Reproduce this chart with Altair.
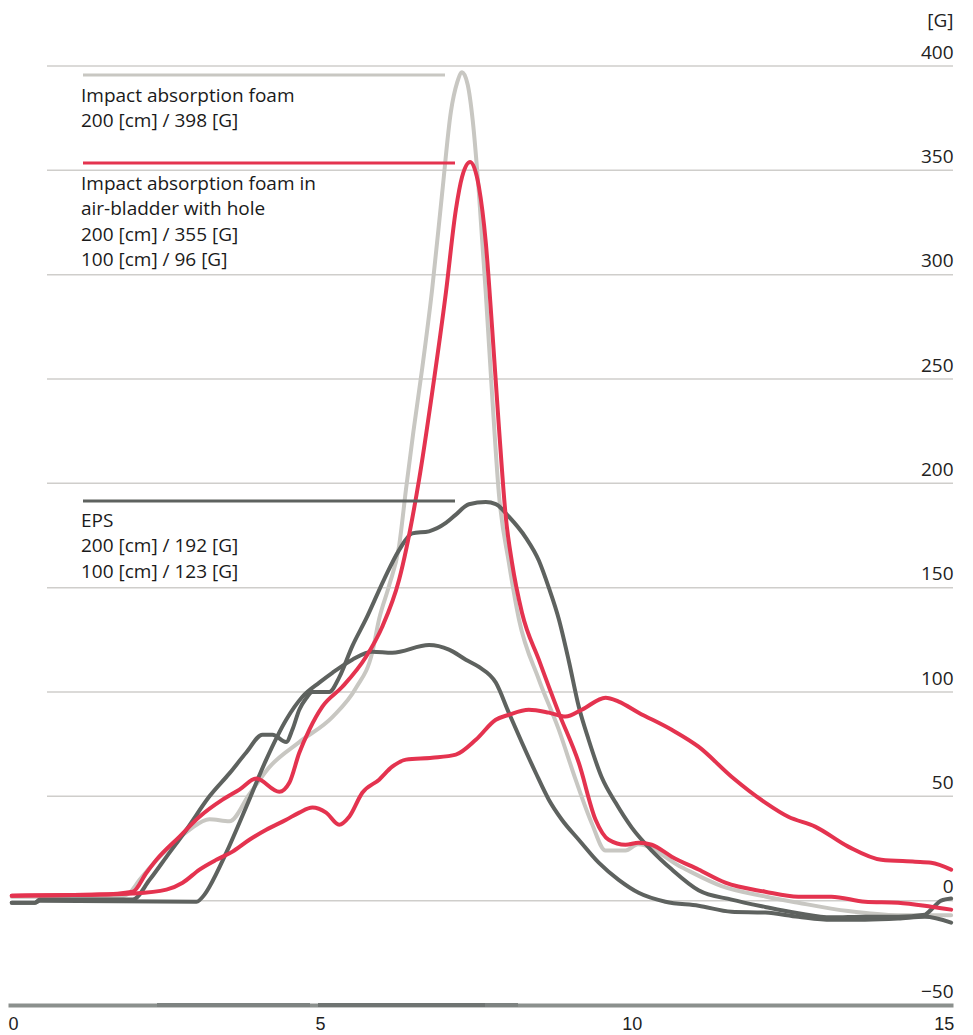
import altair as alt
import pandas as pd

# ---------------- data (time [ms] vs acceleration [G]) ----------------
foam200_t = [0.06, 1.79, 1.95, 2.11, 2.43, 2.91, 3.23, 3.55, 3.87, 4.19, 4.67, 5.2, 5.58, 5.84,
             5.95, 6.11, 6.27, 6.38, 6.5, 6.64, 6.8, 6.96, 7.1, 7.2, 7.28, 7.37, 7.45, 7.55, 7.66,
             7.76, 7.87, 8.03, 8.19, 8.51, 8.83, 9.1, 9.36, 9.58, 9.9, 10.1, 10.8, 11.44,
             12.14, 12.67, 13.47, 14.27, 15.12]
foam200_g = [1.9, 1.9, 3.8, 10, 21, 34, 39, 38, 51, 64, 76, 88, 102, 119,
             135, 151, 170, 197, 225, 255, 293, 339, 378, 392, 397, 391, 374, 339, 291,
             243, 195, 162, 135, 106, 82, 58, 37, 24, 24, 27, 16, 7,
             2, -1, -5, -7, -7]

bladder200_t = [0.06, 1.47, 2.0, 2.22, 2.38, 2.75, 3.07, 3.44, 3.71, 3.98, 4.35, 4.51, 4.67, 4.83,
                5.04, 5.36, 5.74, 6.0, 6.27, 6.59, 6.8, 7.02, 7.18, 7.28, 7.41, 7.55, 7.66, 7.76,
                7.87, 7.98, 8.08, 8.24, 8.51, 8.83, 9.15, 9.42, 9.63, 9.9, 10.11, 10.32, 10.64,
                11.07, 11.5, 12.14, 12.67, 13.2, 13.74, 14.27, 14.8, 15.12]
bladder200_g = [2.4, 2.9, 4.3, 13.4, 19.6, 30.7, 40.2, 48.4, 53.2, 58.5, 52.2, 56.5, 70.9, 81.9,
                93, 102.5, 116.9, 131.3, 153.8, 201.7, 243.4, 291.3, 331.1, 346.9, 354, 342, 315.3, 275,
                227.1, 184, 162, 138, 115.5, 90, 66.1, 38.8, 29.2, 26.8, 27.8, 26.8, 21.1,
                14.9, 8.6, 4.3, 1.9, 1.9, -0.5, -1, -2.9, -4.3]

bladder100_t = [0.06, 1.47, 2.0, 2.54, 2.8, 3.07, 3.34, 3.6, 3.87, 4.14, 4.46, 4.67, 4.88, 5.1,
                5.31, 5.47, 5.68, 5.95, 6.16, 6.38, 6.8, 7.18, 7.5, 7.82, 8.03, 8.35, 8.67, 8.94,
                9.2, 9.58, 9.79, 10.11, 10.64, 11.07, 11.6, 12.14, 12.51, 12.94, 13.47, 14.0,
                14.54, 14.8, 15.12]
bladder100_g = [2.4, 2.9, 3.4, 5.3, 8.6, 14.9, 19.6, 23.5, 29.2, 34, 38.8, 42.2, 44.6, 42.2,
                36.4, 40.2, 51.7, 58, 64.2, 67.6, 68.5, 70, 77.1, 86.7, 89.1, 91.5, 90.1, 88.2,
                91.5, 97.3, 95.4, 90.1, 81.9, 73.8, 59.4, 47, 40.2, 35.5, 25.9, 19.6,
                18.7, 18.2, 14.9]

eps200_t = [0.06, 0.43, 0.51, 2.0, 2.27, 2.54, 2.86, 3.23, 3.55, 3.82, 4.08, 4.24, 4.46, 4.56,
            4.67, 4.78, 4.88, 5.15, 5.31, 5.52, 5.74, 6.03, 6.27, 6.48, 6.75, 7.02, 7.18, 7.39,
            7.66, 7.82, 8.03, 8.3, 8.51, 8.67, 8.83, 8.99, 9.15, 9.31, 9.52, 9.74, 10.0, 10.32,
            10.64, 11.07, 11.6, 12.14, 12.67, 13.2, 13.74, 14.27, 14.7, 14.8, 14.96, 15.12]
eps200_g = [-1, -1, 0.5, 0.5, 10, 21, 34, 50, 61, 71, 79.5, 79.5, 76, 82,
            91.5, 97, 100, 100, 107, 122, 135, 154, 168, 176, 177, 181, 185, 190,
            191, 190, 184, 174, 163, 150, 135, 115, 93, 77, 59, 47, 35, 24,
            15, 5, 0.5, -3, -6, -8, -7.7, -7.7, -6.7, -4.3, 0, 1]

eps100_t = [0.06, 0.43, 0.51, 3.02, 3.15, 3.23, 3.5, 3.82, 4.14, 4.46, 4.72, 4.99, 5.2, 5.52,
            5.84, 6.16, 6.75, 7.07, 7.34, 7.55, 7.82, 8.03, 8.24, 8.46, 8.67, 8.88, 9.15, 9.47,
            9.79, 10.11, 10.54, 11.07, 11.6, 12.14, 12.67, 13.2, 13.74, 14.27, 14.7, 15.12]
eps100_g = [-1, -1, 0, -0.5, 2.9, 6.7, 23, 45, 67.6, 86.7, 97.7, 104.5, 109.2, 115.5,
            119.3, 118.8, 122.5, 120.3, 115.5, 112, 104.5, 90, 75.7, 61.3, 48.4, 38.8, 29.2, 18.2,
            10, 3.8, -0.5, -2.4, -5.3, -5.7, -7.7, -9.1, -9.1, -8.6, -7.7, -10.5]

x_ticks = [0, 5, 10, 15]
y_ticks = [-50, 0, 50, 100, 150, 200, 250, 300, 350, 400]
grid_values = [0, 50, 100, 150, 200, 250, 300, 350, 400]

foam_lines = ["Impact absorption foam", "200 [cm] / 398 [G]"]
bladder_lines = ["Impact absorption foam in", "air-bladder with hole",
                 "200 [cm] / 355 [G]", "100 [cm] / 96 [G]"]
eps_lines = ["EPS", "200 [cm] / 192 [G]", "100 [cm] / 123 [G]"]

# ---------------- styling ----------------
LIGHT = "#c8c7c2"
RED = "#e4334f"
DARK = "#5e625f"
GRID = "#cfcecb"
TEXT = "#1a1a1a"
FONT = "Open Sans"

W, H = 945, 939
xscale = alt.Scale(domain=[0, 15.15], nice=False, zero=False)
yscale = alt.Scale(domain=[-50, 400], nice=False, zero=False)

x_axis = alt.Axis(values=x_ticks, title=None, grid=False, ticks=False, tickSize=0,
                  domain=True, domainColor="#8b908d", domainWidth=4,
                  labelFont="Liberation Sans", labelFontSize=18, labelColor="#222222",
                  labelPadding=10, labelFlush=True, labelOverlap=False)
y_axis = alt.Axis(orient="right", values=y_ticks, grid=False, ticks=False, tickSize=0,
                  domain=False, labelAlign="right", labelBaseline="bottom", labelOffset=-4,
                  labelPadding=0, labelFont=FONT, labelFontSize=19, labelColor="#222222",
                  labelOverlap=False, labelFlush=False,
                  title="[G]", titleAngle=0, titleAlign="right", titleBaseline="middle",
                  titleX=0, titleY=-46, titleFont=FONT, titleFontSize=19,
                  titleFontWeight="normal", titleColor="#222222")


def series_df(ts, gs):
    return pd.DataFrame({"t": ts, "g": gs})


def line_layer(ts, gs, color):
    return alt.Chart(series_df(ts, gs)).mark_line(
        color=color, strokeWidth=4, interpolate="monotone", strokeCap="round", strokeJoin="round"
    ).encode(
        x=alt.X("t:Q", scale=xscale, axis=x_axis),
        y=alt.Y("g:Q", scale=yscale, axis=y_axis),
    )


grid = alt.Chart(pd.DataFrame({"g": grid_values})).mark_rule(
    color=GRID, strokeWidth=1.5
).encode(
    y=alt.Y("g:Q", scale=yscale, axis=y_axis),
    x=alt.value(39), x2=alt.value(W),
)


def base_segment(x0, x1, color):
    return alt.Chart(pd.DataFrame({"k": [0]})).mark_rule(color=color, strokeWidth=4).encode(
        x=alt.value(x0), x2=alt.value(x1), y=alt.value(H)
    )


def key_rule(x0, x1, y, color):
    return alt.Chart(pd.DataFrame({"k": [0]})).mark_rule(color=color, strokeWidth=3).encode(
        x=alt.value(x0), x2=alt.value(x1), y=alt.value(y)
    )


def text_block(lines, x, y0, step=25.3):
    layers = []
    for i, s in enumerate(lines):
        layers.append(
            alt.Chart(pd.DataFrame({"k": [0]})).mark_text(
                align="left", baseline="middle", font=FONT, fontSize=19, color=TEXT, text=s
            ).encode(x=alt.value(x), y=alt.value(y0 + i * step))
        )
    return layers


layers = [
    grid,
    line_layer(foam200_t, foam200_g, LIGHT),
    base_segment(149, 302, "#7e8381"),
    base_segment(310, 477, "#6f7472"),
    base_segment(477, 510, "#7e8381"),
    line_layer(eps100_t, eps100_g, DARK),
    line_layer(eps200_t, eps200_g, DARK),
    line_layer(bladder100_t, bladder100_g, RED),
    line_layer(bladder200_t, bladder200_g, RED),
    key_rule(75, 437, 9, LIGHT),
    key_rule(75, 447, 97, RED),
    key_rule(75, 447, 435, DARK),
]
layers += text_block(foam_lines, 73, 30)
layers += text_block(bladder_lines, 73, 118)
layers += text_block(eps_lines, 73, 455)

chart = alt.layer(*layers).properties(
    width=W, height=H,
    autosize=alt.AutoSizeParams(type="none"),
    padding={"left": 0, "top": 58, "right": 4, "bottom": 30},
    background="white",
).configure_view(stroke=None)

chart.save("out.html", embed_options={"renderer": "svg", "actions": False})
